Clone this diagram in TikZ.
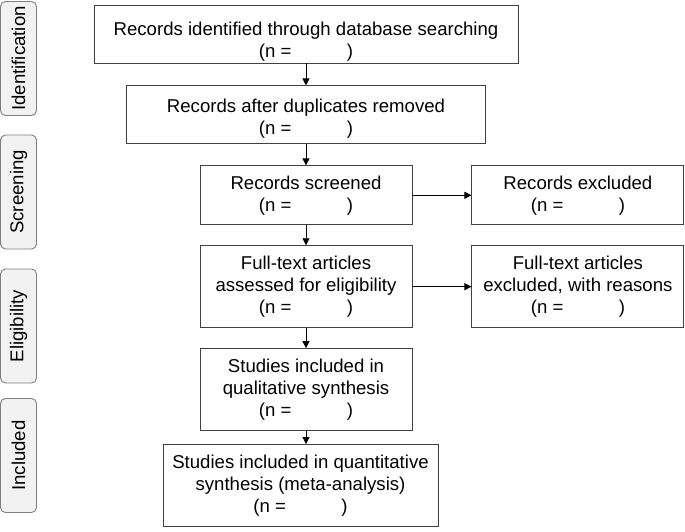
\documentclass[tikz,border=0pt]{standalone}
\usepackage{fontspec}
\setmainfont{Liberation Sans}
\usetikzlibrary{positioning,arrows.meta}
\definecolor{boxline}{HTML}{404040}
\definecolor{stageline}{HTML}{7F7F7F}
\definecolor{stagefill}{HTML}{F2F2F2}
\newcommand{\nval}{(n = \hspace{2.7em})}

\begin{document}
\begin{tikzpicture}[->, >={Triangle[length=7pt,width=7pt]}, x=1pt, y=-1pt,
  line width=0.9pt,
  box/.style={draw=boxline, align=center, inner sep=0pt,
    font=\fontsize{18.6}{22}\selectfont, minimum width=212pt},
  stage/.style={draw=stageline, fill=stagefill, rounded corners=5pt, rotate=90,
    font=\fontsize{18.6}{22}\selectfont, minimum width=114pt, minimum height=36pt}]
\useasboundingbox (0,0) rectangle (685,532);

% phases
\node[stage] (s1) at (18.5,58.5)  {Identification};
\node[stage] (s2) at (18.5,192)   {Screening};
\node[stage] (s3) at (18.5,326)   {Eligibility};
\node[stage] (s4) at (18.5,455.5) {Included};

% main column
\node[box, minimum width=424pt, minimum height=58pt] (ident) at (306,34)
  {\rule{0pt}{29pt}Records identified through database searching\\ \nval};
\node[box, minimum width=359pt, minimum height=58pt, below=22pt of ident] (dup)
  {\rule{0pt}{22pt}Records after duplicates removed\\ \nval};
\node[box, minimum height=59pt, below=21pt of dup] (scr)
  {Records screened\\ \nval};
\node[box, minimum height=82pt, below=20pt of scr] (full)
  {Full-text articles\\ assessed for eligibility\\ \nval};
\node[box, minimum height=82pt, below=20pt of full] (qual)
  {Studies included in\\ qualitative synthesis\\ \nval};
\node[box, minimum width=275pt, minimum height=82pt, below=13pt of qual, xshift=-5.5pt] (quant)
  {Studies included in quantitative\\ synthesis (meta-analysis)\\ \nval};

% exclusions
\node[box, minimum height=59pt, right=59pt of scr] (scrx)
  {Records excluded\\ \nval};
\node[box, minimum height=82pt, right=59pt of full] (fullx)
  {Full-text articles\\ excluded, with reasons\\ \nval};

\coordinate (quanttop) at (qual.south |- quant.north);

\path
(ident) edge (dup)
(dup)   edge (scr)
(scr)   edge (full)
        edge (scrx)
(full)  edge (qual)
        edge (fullx)
(qual)  edge (quanttop)
;
\end{tikzpicture}
\end{document}
